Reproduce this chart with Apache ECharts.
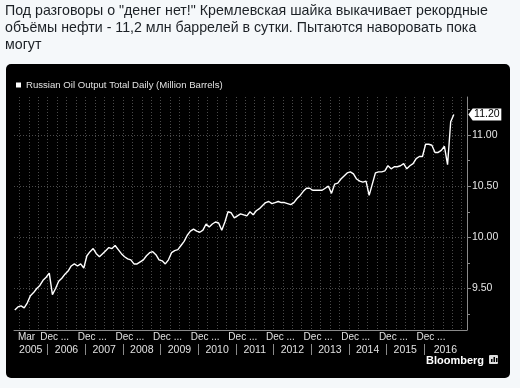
<!DOCTYPE html>
<html><head><meta charset="utf-8">
<script src="https://cdn.jsdelivr.net/npm/echarts@6/dist/echarts.min.js"></script>
<style>html,body{margin:0;padding:0;background:#f5f8fa;}#c{width:520px;height:388px;}</style>
</head><body><div id="c"></div>
<script>
// ---- data ----
const tweetText = 'Под разговоры о "денег нет!" Кремлевская шайка выкачивает рекордные\nобъёмы нефти - 11,2 млн баррелей в сутки. Пытаются наворовать пока\nмогут';
const seriesName = 'Russian Oil Output Total Daily (Million Barrels)';
const startYear = 2005;
const startMonth = 2; // first value: Feb 2005, monthly through Oct 2016
const output = [
  9.29, 9.32, 9.33, 9.31, 9.36, 9.43, 9.46, 9.50, 9.53, 9.58, 9.61, 9.65,
  9.44, 9.50, 9.57, 9.60, 9.64, 9.67, 9.72, 9.74, 9.72, 9.74, 9.70, 9.82,
  9.86, 9.89, 9.84, 9.81, 9.84, 9.87, 9.90, 9.89, 9.92, 9.88, 9.84, 9.81,
  9.79, 9.78, 9.74, 9.74, 9.76, 9.78, 9.82, 9.85, 9.86, 9.83, 9.78, 9.77,
  9.74, 9.78, 9.85, 9.87, 9.88, 9.92, 9.96, 10.02, 10.06, 10.08, 10.06, 10.05,
  10.07, 10.13, 10.10, 10.13, 10.15, 10.14, 10.07, 10.15, 10.25, 10.24, 10.19, 10.21,
  10.23, 10.22, 10.21, 10.25, 10.22, 10.26, 10.28, 10.31, 10.34, 10.35, 10.33, 10.34,
  10.35, 10.34, 10.34, 10.33, 10.32, 10.34, 10.38, 10.41, 10.45, 10.48, 10.48, 10.46,
  10.46, 10.46, 10.46, 10.48, 10.50, 10.43, 10.52, 10.53, 10.57, 10.60, 10.63, 10.64,
  10.62, 10.57, 10.55, 10.54, 10.55, 10.41, 10.52, 10.63, 10.64, 10.64, 10.65, 10.70,
  10.67, 10.69, 10.69, 10.70, 10.72, 10.67, 10.70, 10.72, 10.77, 10.79, 10.79, 10.91,
  10.91, 10.90, 10.83, 10.83, 10.85, 10.89, 10.71, 11.13, 11.20
];
const yTickValues = [9.5, 10.0, 10.5, 11.0];
const years = ['2005','2006','2007','2008','2009','2010','2011','2012','2013','2014','2015','2016'];
const firstMonthLabel = 'Mar';
const decLabel = 'Dec ...';
const lastValueLabel = '11.20';
const sourceText = 'Bloomberg';

// x axis unit: months since 1 Jan 2005; a month's value sits mid-month
const seriesData = output.map((v, i) => [(startMonth - 1) + i + 0.5, v]);
const last = seriesData[seriesData.length - 1];
const quarterLines = [];
for (let t = 3; t <= 144; t += 3) quarterLines.push(t);
const yearBounds = years.slice(1).map((y, i) => (i + 1) * 12);
const yearCenters = years.map((y, i) => i === 0 ? 6.6 : (i === years.length - 1 ? 138.8 : i * 12 + 6));
const monthLabelPos = [2.5].concat(years.slice(0, 11).map((y, i) => i * 12 + 9.6));

const FONT = 'Liberation Sans';
const chart = echarts.init(document.getElementById('c'), null, {renderer: 'canvas'});
chart.setOption({
  animation: false,
  backgroundColor: '#f5f8fa',
  title: {
    text: tweetText, left: 5, top: 3, padding: 0,
    textStyle: {fontFamily: FONT, fontSize: 14.2, fontWeight: 'normal', color: '#1c2126', lineHeight: 17}
  },
  graphic: [
    {type: 'rect', z: -100, shape: {x: 6, y: 64, width: 504, height: 314, r: 5}, style: {fill: '#000'}},
    {type: 'text', z: 10, left: 426, top: 355, style: {text: sourceText, fill: '#fff', font: 'bold 11px "Liberation Sans"'}},
    {type: 'rect', z: 10, shape: {x: 489, y: 355, width: 9, height: 9, r: 1}, style: {fill: '#ddd'}},
    {type: 'rect', z: 11, shape: {x: 491, y: 359, width: 1.5, height: 3}, style: {fill: '#000'}},
    {type: 'rect', z: 11, shape: {x: 493.5, y: 357, width: 1.5, height: 5}, style: {fill: '#000'}},
    {type: 'rect', z: 11, shape: {x: 496, y: 358, width: 1.5, height: 4}, style: {fill: '#000'}}
  ],
  legend: {
    left: 16, top: 80, padding: 0, itemWidth: 5, itemHeight: 5, icon: 'rect',
    data: [{name: seriesName, itemStyle: {color: '#fff'}}],
    textStyle: {color: '#e0e0e0', fontSize: 9.6, fontFamily: FONT}
  },
  grid: {left: 14, right: 53, top: 97, bottom: 58, containLabel: false},
  xAxis: [
    {
      type: 'value', min: 1.25, max: 145.7,
      axisLine: {show: true, lineStyle: {color: '#8a8a8a', width: 1}},
      axisTick: {show: false, customValues: quarterLines},
      splitLine: {show: true, lineStyle: {color: '#4a4a4a', type: [1, 2], width: 1}},
      axisLabel: {
        customValues: monthLabelPos, align: 'left', margin: 2,
        color: '#e0e0e0', fontSize: 10, fontFamily: FONT,
        formatter: (v) => v < 5 ? firstMonthLabel : decLabel
      }
    },
    {
      type: 'value', min: 1.25, max: 145.7, position: 'bottom', offset: 14,
      axisLine: {show: false},
      axisTick: {show: true, customValues: yearBounds, length: 11, lineStyle: {color: '#8a8a8a'}},
      splitLine: {show: false},
      axisLabel: {
        customValues: yearCenters, margin: 1,
        color: '#e0e0e0', fontSize: 10.5, fontFamily: FONT,
        formatter: (v) => years[Math.floor(v / 12)]
      }
    }
  ],
  yAxis: {
    type: 'value', position: 'right', min: 9.094, max: 11.372,
    axisLine: {show: true, lineStyle: {color: '#8a8a8a'}},
    axisTick: {show: true, customValues: yTickValues, length: 4, lineStyle: {color: '#8a8a8a'}},
    minorTick: {show: true, splitNumber: 2, length: 3, lineStyle: {color: '#8a8a8a'}},
    splitLine: {show: true, lineStyle: {color: '#4a4a4a', type: [1, 2], width: 1}},
    axisLabel: {
      customValues: yTickValues, margin: 5,
      color: '#e6e6e6', fontSize: 10.5, fontFamily: FONT,
      formatter: (v) => v.toFixed(2)
    }
  },
  series: [{
    name: seriesName, type: 'line', xAxisIndex: 0, data: seriesData,
    showSymbol: false, symbol: 'none',
    lineStyle: {color: '#fff', width: 1.4}, itemStyle: {color: '#fff'},
    markPoint: {
      silent: true,
      symbol: 'path://M0,6L5,0L38,0L38,12L5,12Z',
      symbolSize: [33, 12], symbolOffset: [31, 0],
      itemStyle: {color: '#fff'},
      label: {show: true, position: 'inside', offset: [2, 0], color: '#000', fontSize: 10.5, fontFamily: FONT, formatter: lastValueLabel},
      data: [{coord: last}]
    }
  }]
});
</script></body></html>
